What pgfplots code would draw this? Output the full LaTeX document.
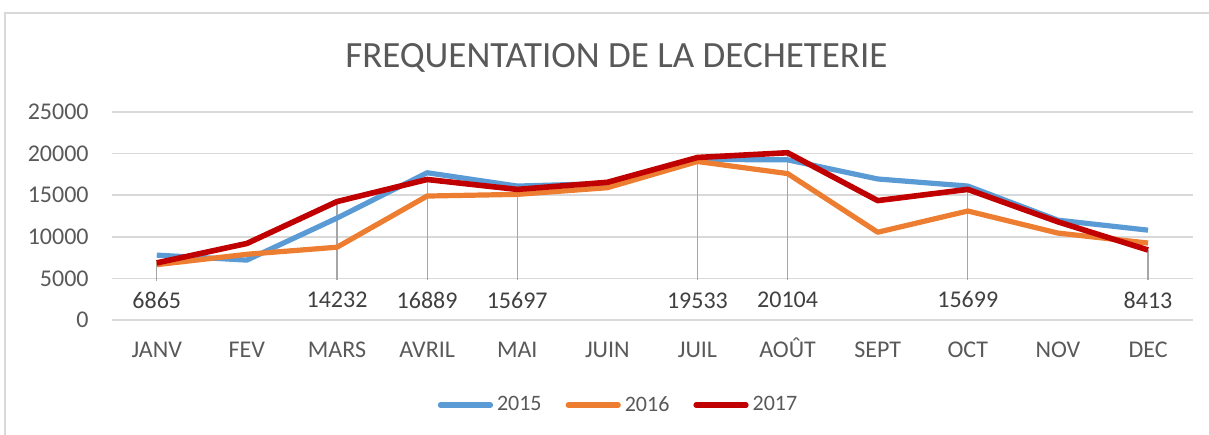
\documentclass[border=0pt]{standalone}
\usepackage{fontspec}
\setmainfont{Carlito}
\usepackage{pgfplots}
\pgfplotsset{compat=1.18}
\definecolor{cA}{HTML}{5B9BD5}
\definecolor{cB}{HTML}{ED7D31}
\definecolor{cC}{HTML}{C00000}
\definecolor{gridc}{HTML}{D9D9D9}
\definecolor{tickc}{HTML}{595959}
\definecolor{labc}{HTML}{404040}
\definecolor{leadc}{HTML}{A6A6A6}
\begin{document}
\begin{tikzpicture}
\useasboundingbox (0,0) rectangle (604.5pt,217pt);
\draw[color=gridc, line width=0.8pt] (640pt,210.5pt) -- (2.5pt,210.5pt) -- (2.5pt,-20pt);
\begin{axis}[
  at={(55.85pt,57pt)}, anchor=south west,
  scale only axis, width=540.7pt, height=104pt,
  xmin=-0.5, xmax=11.5, ymin=0, ymax=25000,
  xtick={0,...,11},
  xticklabels={JANV,FEV,MARS,AVRIL,MAI,JUIN,JUIL,AOÛT,SEPT,OCT,NOV,DEC},
  ytick={0,5000,10000,15000,20000,25000},
  scaled y ticks=false,
  /pgf/number format/1000 sep={},
  /pgf/number format/assume math mode=true,
  axis line style={draw=none},
  major tick style={draw=none},
  ymajorgrids,
  grid style={color=gridc, line width=0.8pt},
  ticklabel style={font=\fontsize{12}{14}\selectfont, text=tickc},
  xticklabel style={anchor=base, yshift=-18.5pt},
  yticklabel style={anchor=east, xshift=-8pt},
  every axis title shift=0pt,
  title={FREQUENTATION DE LA DECHETERIE},
  title style={at={(0.4667,1.26)}, anchor=center, yshift=0pt, font=\fontsize{18.5}{21}\selectfont, text=tickc},
  legend style={draw=none, fill=none, legend columns=3, at={(0.4696,-0.409)}, anchor=center,
    font=\fontsize{11}{13}\selectfont, text=tickc,
    /tikz/every even column/.append style={column sep=10pt}},
  legend image code/.code={\draw[line width=2.6pt, line cap=round] (0pt,0pt) -- (25pt,0pt);},
  line join=round,
]
\addplot[color=leadc, line width=0.6pt, unbounded coords=jump, forget plot] coordinates {
 (0,6865) (0,4700) (0,nan)
 (2,14232) (2,4800) (2,nan)
 (3,16889) (3,4800) (3,nan)
 (4,15697) (4,4800) (4,nan)
 (6,19533) (6,4800) (6,nan)
 (7,20104) (7,4800) (7,nan)
 (9,15699) (9,4800) (9,nan)
 (11,8413) (11,4800)
};
\addplot[color=cA, line width=2.6pt, mark=none] coordinates {
 (0,7800) (1,7200) (2,12250) (3,17700) (4,16100) (5,16400) (6,19300) (7,19250) (8,16950) (9,16100) (10,12000) (11,10800)
};
\addlegendentry{2015}
\addplot[color=cB, line width=2.6pt, mark=none] coordinates {
 (0,6650) (1,7900) (2,8750) (3,14900) (4,15100) (5,15900) (6,19050) (7,17600) (8,10550) (9,13100) (10,10450) (11,9250)
};
\addlegendentry{2016}
\addplot[color=cC, line width=2.8pt, mark=none] coordinates {
 (0,6865) (1,9200) (2,14232) (3,16889) (4,15697) (5,16550) (6,19533) (7,20104) (8,14350) (9,15699) (10,11800) (11,8413)
};
\addlegendentry{2017}
\addplot[draw=none, mark=none, forget plot, nodes near coords, point meta=explicit symbolic,
  nodes near coords style={anchor=center, font=\fontsize{12}{14}\selectfont, text=labc}] coordinates {
 (0,2400) [6865]
 (2,2400) [14232]
 (3,2400) [16889]
 (4,2400) [15697]
 (6,2300) [19533]
 (7,2400) [20104]
 (9,2450) [15699]
 (11,2400) [8413]
};
\end{axis}
\end{tikzpicture}
\end{document}
